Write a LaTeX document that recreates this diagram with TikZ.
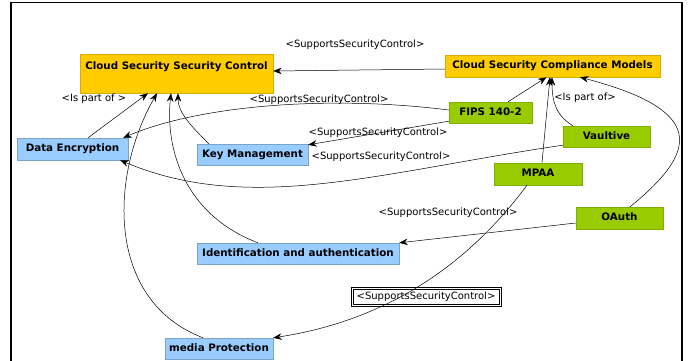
\documentclass[tikz,border=0pt]{standalone}
\usepackage{fontspec}
\setmainfont{DejaVu Sans}
\usetikzlibrary{arrows.meta}

\definecolor{ccyellow}{HTML}{FFCC00}
\definecolor{ccblue}{HTML}{99CCFF}
\definecolor{ccgreen}{HTML}{99CC00}

\tikzset{
  box/.style={rectangle, inner sep=0pt, font=\fontsize{10.3}{12}\selectfont\bfseries,
    text height=7.5pt, text depth=2pt, minimum height=21pt, line width=0.4pt},
  yellowbox/.style={box, fill=ccyellow, draw=ccyellow!85!black},
  bluebox/.style={box, fill=ccblue, draw=ccblue!80!black},
  greenbox/.style={box, fill=ccgreen, draw=ccgreen!85!black},
  rel/.style={font=\fontsize{10}{12}\selectfont, inner sep=1pt},
  relbox/.style={rel, draw, line width=0.7pt, inner sep=0pt,
    minimum width=150pt, minimum height=19pt},
  link/.style={-{Stealth[length=8.5pt,width=6.5pt]}, line width=0.5pt},
}

\begin{document}
\begin{tikzpicture}[x=1pt, y=-1pt]
\useasboundingbox (0,0) rectangle (689,360);
\draw[line width=1.5pt] (11,361) -- (11,2.7) -- (682,2.7) -- (682,361);

% classes
\node[yellowbox, minimum width=193pt, text height=15pt, text depth=24pt] (ctrl) at (176.5,73.5) {Cloud Security Security Control};
\node[yellowbox, minimum width=215pt, minimum height=22pt] (comp) at (552.5,66) {Cloud Security Compliance Models};
\node[bluebox, minimum width=111pt, minimum height=22pt] (enc) at (72.5,149) {Data Encryption};
\node[bluebox, minimum width=111pt] (key) at (252.5,154.5) {Key Management};
\node[bluebox, minimum width=202pt] (ident) at (298,253.5) {Identification and authentication};
\node[bluebox, minimum width=108pt] (media) at (219,348.5) {media Protection};
\node[greenbox, minimum width=83pt] (fips) at (490.5,112.5) {FIPS 140-2};
\node[greenbox, minimum width=87pt] (vault) at (606.5,136.5) {Vaultive};
\node[greenbox, minimum width=88pt, minimum height=22pt] (mpaa) at (538,174) {MPAA};
\node[greenbox, minimum width=87pt, minimum height=22pt] (oauth) at (619.5,218) {OAuth};

% relation names
\node[rel] (lcomp) at (355,45) {<SupportsSecurityControl>};
\node[rel] (lenc) at (94,99) {<Is part of >};
\node[rel] (lfipsenc) at (319,100) {<SupportsSecurityControl>};
\node[rel] (lfipskey) at (378,133) {<SupportsSecurityControl>};
\node[rel] (lvault) at (381,157) {<SupportsSecurityControl>};
\node[rel] (lpart) at (585,98) {<Is part of>};
\node[rel] (loauth) at (448,213) {<SupportsSecurityControl>};
\node[relbox] (lmpaa) at (426,296.5) {<SupportsSecurityControl>};
\draw[line width=0.6pt] ([shift={(2.2pt,2.2pt)}]lmpaa.south west) rectangle ([shift={(-2.2pt,-2.2pt)}]lmpaa.north east);

% links
\draw[link] ([yshift=-3pt]comp.west) -- ([yshift=2.5pt]ctrl.east);
\draw[link] ([xshift=15.5pt]enc.north) -- ([xshift=-28.5pt]ctrl.south);
\draw[link] ([xshift=-16pt]media.north) .. controls (105,300) and (110,175) .. ([xshift=-19.5pt]ctrl.south);
\draw[link] ([xshift=-40pt]ident.north) .. controls (185,215) and (165,150) .. ([xshift=-5.5pt]ctrl.south);
\draw[link] ([xshift=12pt]key.north west) .. controls (190,125) and (178,112) .. ([xshift=1.5pt]ctrl.south);
\draw[link] ([xshift=17.5pt]fips.north) -- ([xshift=-6pt]comp.south);
\draw[link] ([xshift=-33.5pt]vault.north) .. controls (555,115) and (552,100) .. ([xshift=-0.5pt]comp.south);
\draw[link] ([xshift=4pt]mpaa.north) -- ([xshift=-2.5pt]comp.south);
\draw[link] ([xshift=10.5pt]oauth.north) .. controls (700,150) and (705,110) .. ([xshift=27.5pt]comp.south);
\draw[link] ([yshift=2.5pt]fips.west) .. controls (330,95) and (200,105) .. ([xshift=-5pt]enc.north east);
\draw[link] ([yshift=2pt]fips.south west) -- ([yshift=-1pt]key.north east);
\draw[link] ([yshift=2pt]vault.south west) .. controls (380,172) and (250,215) .. ([xshift=-8pt]enc.south east);
\draw[link] ([xshift=-11pt]mpaa.south) .. controls (470,262) and (390,320) .. (media.north east);
\draw[link] ([yshift=-5pt]oauth.west) -- (ident.north east);
\end{tikzpicture}
\end{document}
